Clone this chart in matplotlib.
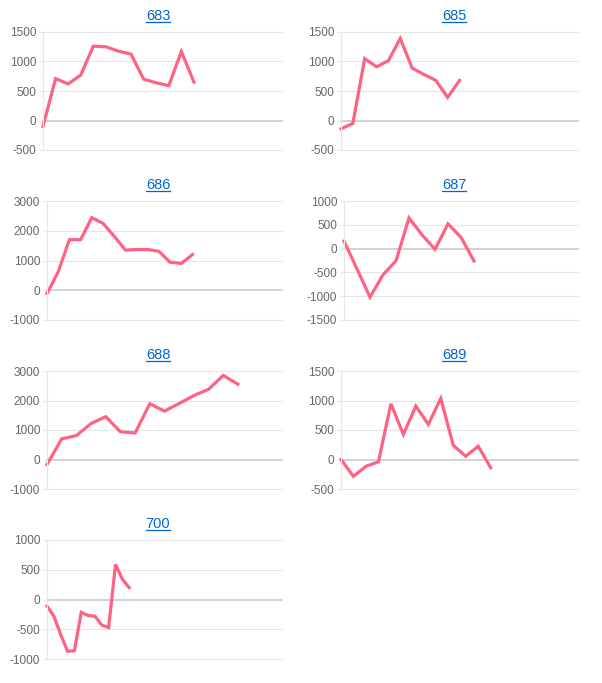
import matplotlib
matplotlib.use("Agg")
import matplotlib.pyplot as plt
from matplotlib.lines import Line2D
from matplotlib.transforms import IdentityTransform

plt.rcParams["font.family"] = ["Liberation Sans", "DejaVu Sans"]
plt.rcParams["axes.unicode_minus"] = False

# panel titles
titles = ["683", "685", "686", "687", "688", "689", "700"]

# series values
s683 = [-100, 710, 620, 770, 1260, 1250, 1175, 1125, 700, 640, 590, 1170, 650]
s685 = [-140, -50, 1050, 910, 1015, 1390, 890, 780, 680, 390, 680]
s686 = [-110, 620, 1700, 1700, 2440, 2250, 1820, 1350, 1370, 1370, 1310, 940, 900, 1200]
s687 = [160, -430, -1020, -550, -255, 645, 290, -15, 520, 235, -260]
s688 = [-170, 700, 810, 1220, 1450, 940, 900, 1890, 1640, 1900, 2170, 2380, 2850, 2550]
s689 = [0, -285, -115, -40, 945, 425, 905, 595, 1035, 240, 55, 225, -140]
s700 = [-110, -280, -590, -870, -860, -215, -270, -280, -430, -470, 590, 340, 200]
series = [s683, s685, s686, s687, s688, s689, s700]

# y axis ticks per panel
yticks = [
    [-500, 0, 500, 1000, 1500],
    [-500, 0, 500, 1000, 1500],
    [-1000, 0, 1000, 2000, 3000],
    [-1500, -1000, -500, 0, 500, 1000],
    [-1000, 0, 1000, 2000, 3000],
    [-500, 0, 500, 1000, 1500],
    [-1000, -500, 0, 500, 1000],
]
# width of the x range in slots
xspan = [19, 20, 21, 18, 16, 19, 34.3]

W, H = 602, 683
fig = plt.figure(figsize=(W / 100, H / 100), dpi=100)

# pixel boxes: left, right, top, bottom
boxes = [
    (43, 282, 32, 150), (341, 578, 32, 150),
    (47, 282, 201, 320), (344, 578, 201, 320),
    (47, 282, 371, 489), (341, 578, 371, 489),
    (47, 282, 540, 659),
]
title_pos = [(158, 16), (454, 16), (158, 185), (454, 185),
             (158, 355), (454, 355), (158, 524)]

red = "#ff6384"
grid = "#e6e6e6"
texts = []
for i, (l, r, t, b) in enumerate(boxes):
    ax = fig.add_axes([l / W, 1 - b / H, (r - l) / W, (b - t) / H])
    y = series[i]
    ax.plot(range(len(y)), y, color=red, lw=2.3, solid_joinstyle="miter", clip_on=False)
    ax.set_xlim(0, xspan[i])
    ax.set_ylim(yticks[i][0], yticks[i][-1])
    ax.set_yticks(yticks[i])
    ax.set_xticks([])
    ax.tick_params(axis="y", length=3, color=grid, labelsize=8.5, labelcolor="#666666", pad=2)
    for tv in yticks[i]:
        ax.axhline(tv, color="#d0d0d0" if tv == 0 else grid, lw=1.3 if tv == 0 else 0.8,
                   zorder=0, clip_on=False)
    for sp in ["top", "right", "bottom"]:
        ax.spines[sp].set_visible(False)
    ax.spines["left"].set_color(grid)
    ax.spines["left"].set_linewidth(0.8)
    cx, cy = title_pos[i]
    texts.append(fig.text(cx / W, 1 - cy / H, titles[i], color="#0066cc",
                          fontsize=10.5, ha="center", va="center"))

# underline the titles like links
fig.canvas.draw()
for t in texts:
    bb = t.get_window_extent()
    fig.add_artist(Line2D([bb.x0, bb.x1], [bb.y0 + 1, bb.y0 + 1], color="#0066cc",
                          lw=0.9, transform=IdentityTransform()))

fig.savefig("out.png", dpi=100)
